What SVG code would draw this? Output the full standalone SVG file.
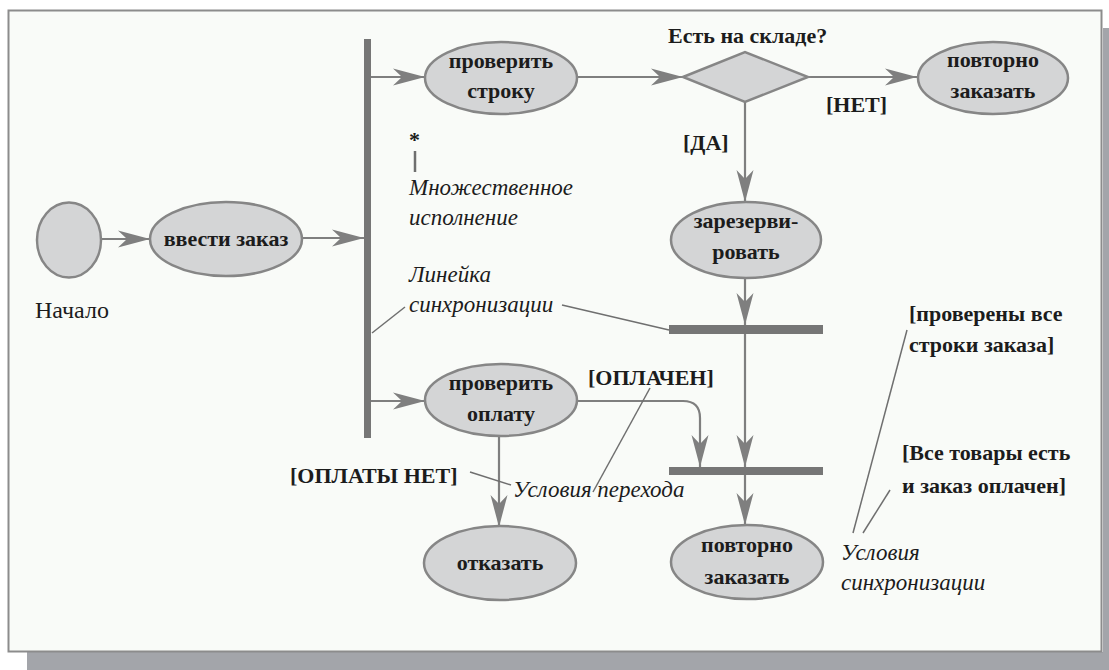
<svg xmlns="http://www.w3.org/2000/svg" width="1109" height="670" viewBox="0 0 1109 670">
  <defs>
    <marker id="arr" viewBox="-34 -10 36 20" refX="0" refY="0" markerWidth="36" markerHeight="20" markerUnits="userSpaceOnUse" orient="auto">
      <path d="M0,0 L-32,-8.5 L-23,0 L-32,8.5 Z" fill="#7f7f7f"/>
    </marker>
    <style>
      text { font-family: 'Liberation Serif', Tinos, 'Times New Roman', 'DejaVu Serif', serif; fill: #1c1c1c; }
      .node { fill: #d4d5d6; stroke: #868686; stroke-width: 2.5; }
      .lbl { font-weight: bold; font-size: 22px; text-anchor: middle; }
      .txt { font-weight: bold; font-size: 22px; }
      .reg { font-size: 24px; }
      .it { font-style: italic; font-size: 23px; }
      .conn { fill: none; stroke: #7f7f7f; stroke-width: 2.2; }
      .lead { fill: none; stroke: #6f6f6f; stroke-width: 1.5; }
      .bar { fill: #767676; }
    </style>
  </defs>

  <!-- frame and shadow -->
  <rect x="27" y="652" width="1082" height="18" fill="#a3a5aa"/>
  <rect x="1103" y="28" width="6" height="624" fill="#a3a5aa"/>
  <rect x="8.5" y="10.5" width="1093" height="641" fill="#f9fbf8" stroke="#8c8c8c" stroke-width="2"/>

  <!-- connectors -->
  <g id="connectors">
    <path class="conn" d="M102,239 L150,239" marker-end="url(#arr)"/>
    <path class="conn" d="M302,238 L364,238" marker-end="url(#arr)"/>
    <path class="conn" d="M371,77 L425,77" marker-end="url(#arr)"/>
    <path class="conn" d="M577,77 L683,77" marker-end="url(#arr)"/>
    <path class="conn" d="M808,77 L917,77" marker-end="url(#arr)"/>
    <path class="conn" d="M745,102 L745,202" marker-end="url(#arr)"/>
    <path class="conn" d="M745,277 L745,325" marker-end="url(#arr)"/>
    <path class="conn" d="M745,334 L745,467" marker-end="url(#arr)"/>
    <path class="conn" d="M371,401 L425,401" marker-end="url(#arr)"/>
    <path class="conn" d="M577,401 L683,401 Q700,401 700,418 L700,467" marker-end="url(#arr)"/>
    <path class="conn" d="M745,475 L745,525" marker-end="url(#arr)"/>
    <path class="conn" d="M499,437 L499,527" marker-end="url(#arr)"/>
  </g>

  <!-- sync bars -->
  <g id="bar-fork">
    <rect class="bar" x="364" y="39" width="7" height="399"/>
  </g>
  <g id="bar-join1">
    <rect class="bar" x="669" y="325" width="154" height="9"/>
  </g>
  <g id="bar-join2">
    <rect class="bar" x="669" y="467" width="154" height="8"/>
  </g>

  <!-- nodes -->
  <g id="start">
    <ellipse class="node" cx="69" cy="240" rx="32" ry="37.5"/>
    <text class="reg" x="35" y="318">Начало</text>
  </g>
  <g id="enter-order">
    <ellipse class="node" cx="226" cy="239" rx="76" ry="37"/>
    <text class="lbl" x="226" y="246">ввести заказ</text>
  </g>
  <g id="check-line">
    <ellipse class="node" cx="501" cy="78" rx="76" ry="36"/>
    <text class="lbl" x="501" y="68">проверить</text>
    <text class="lbl" x="501" y="98">строку</text>
  </g>
  <g id="in-stock">
    <path class="node" d="M683,77 L745,52 L808,77 L745,102 Z"/>
    <text class="txt" x="668" y="43">Есть на складе?</text>
  </g>
  <g id="reorder-top">
    <ellipse class="node" cx="993" cy="78" rx="75" ry="36"/>
    <text class="lbl" x="993" y="67">повторно</text>
    <text class="lbl" x="993" y="98">заказать</text>
  </g>
  <g id="reserve">
    <ellipse class="node" cx="746" cy="240" rx="75" ry="38"/>
    <text class="lbl" x="746" y="228">зарезерви-</text>
    <text class="lbl" x="746" y="259">ровать</text>
  </g>
  <g id="check-payment">
    <ellipse class="node" cx="501" cy="400" rx="76" ry="36"/>
    <text class="lbl" x="501" y="390">проверить</text>
    <text class="lbl" x="501" y="421">оплату</text>
  </g>
  <g id="reject">
    <ellipse class="node" cx="500" cy="563" rx="76" ry="37"/>
    <text class="lbl" x="500" y="570">отказать</text>
  </g>
  <g id="reorder-bottom">
    <ellipse class="node" cx="747" cy="562" rx="76" ry="37"/>
    <text class="lbl" x="747" y="552">повторно</text>
    <text class="lbl" x="747" y="584">заказать</text>
  </g>

  <!-- guard labels -->
  <g id="guards">
    <text class="txt" x="826" y="112">[НЕТ]</text>
    <text class="txt" x="683" y="150">[ДА]</text>
    <text class="txt" x="588" y="385">[ОПЛАЧЕН]</text>
    <text class="txt" x="290" y="483">[ОПЛАТЫ НЕТ]</text>
    <text class="txt" x="909" y="321">[проверены все</text>
    <text class="txt" x="909" y="352">строки заказа]</text>
    <text class="txt" x="902" y="460">[Все товары есть</text>
    <text class="txt" x="902" y="493">и заказ оплачен]</text>
  </g>

  <!-- annotations -->
  <g id="annotations">
    <text class="txt" x="409" y="147" font-size="18">*</text>
    <line x1="415" y1="151" x2="415" y2="172" stroke="#6f6f6f" stroke-width="2.5"/>
    <text class="it" x="409" y="195">Множественное</text>
    <text class="it" x="409" y="225">исполнение</text>
    <text class="it" x="409" y="282">Линейка</text>
    <text class="it" x="409" y="312">синхронизации</text>
    <path class="lead" d="M372,333 L405,307"/>
    <path class="lead" d="M562,305 L669,330"/>
    <text class="it" x="513" y="497">Условия перехода</text>
    <path class="lead" d="M470,472 L511,485"/>
    <path class="lead" d="M650,388 L593,492"/>
    <text class="it" x="841" y="560">Условия</text>
    <text class="it" x="841" y="590">синхронизации</text>
    <path class="lead" d="M907,330 L853,533"/>
    <path class="lead" d="M890,490 L863,533"/>
  </g>
</svg>
